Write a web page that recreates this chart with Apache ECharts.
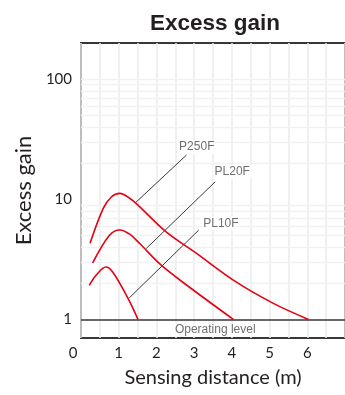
<!DOCTYPE html>
<html><head><meta charset="utf-8">
<script src="https://cdn.jsdelivr.net/npm/echarts@6/dist/echarts.min.js"></script>
<style>html,body{margin:0;padding:0;background:#fff}#c{width:345px;height:395px}</style>
</head><body><div id="c"></div>
<script>
// ---- data ----
const xTickLabels = [0, 1, 2, 3, 4, 5, 6];
const yTickLabels = [1, 10, 100];
const yGridValues = [2, 3, 4, 5, 6, 7, 8, 9, 20, 30, 40, 50, 60, 70, 80, 90, 100];
const operatingLevel = 1;

const distP250F = [0.24, 0.59, 0.81, 1.03, 1.29, 1.51, 2.25, 3.0, 4.1, 5.1, 6.03];
const gainP250F = [4.3, 8.4, 10.5, 11.2, 10.2, 8.95, 5.37, 3.66, 2.06, 1.36, 1.0];

const distPL20F = [0.31, 0.75, 1.03, 1.3, 1.55, 2.12, 2.86, 4.04];
const gainPL20F = [2.95, 5.0, 5.55, 5.1, 4.3, 2.84, 1.87, 1.0];

const distPL10F = [0.22, 0.40, 0.66, 0.84, 1.23, 1.51];
const gainPL10F = [1.92, 2.33, 2.73, 2.48, 1.53, 1.0];

const seriesNames = ['P250F', 'PL20F', 'PL10F'];
const leaderDist = [[1.46, 2.80], [1.73, 3.56], [1.28, 3.12]];
const leaderGain = [[9.47, 23.4], [3.89, 14.0], [1.51, 5.53]];
const labelDist = [3.07, 4.01, 3.71];
const labelGain = [27.2, 16.9, 6.32];
const opLabel = 'Operating level';
const opLabelPos = [3.56, 0.82];

// ---- build ----
const zip = (xs, ys) => xs.map((x, i) => [x, ys[i]]);
const RED = '#e60012';
const curves = [zip(distP250F, gainP250F), zip(distPL20F, gainPL20F), zip(distPL10F, gainPL10F)];
const font = 'Lato';
const GRID = '#ebebeb';

const series = [];
series.push({
  type: 'line', data: [], silent: true,
  markLine: {
    silent: true, symbol: 'none', z: 1, animation: false,
    label: { show: false }, emphasis: { disabled: true },
    lineStyle: { color: '#f1f1f1', width: 1.3, type: 'solid', opacity: 1 },
    data: yGridValues.map(v => ({ yAxis: v }))
  }
});
series.push({
  type: 'line', data: [], silent: true,
  markLine: {
    silent: true, symbol: 'none', z: 4, animation: false,
    label: { show: false }, emphasis: { disabled: true },
    lineStyle: { color: '#3a3536', width: 1.5, type: 'solid' },
    data: [{ yAxis: operatingLevel }]
  }
});
curves.forEach((d, i) => series.push({
  name: seriesNames[i], type: 'line', data: d, smooth: 0.35, symbol: 'none', z: 5,
  lineStyle: { color: RED, width: 1.6 }
}));
leaderDist.forEach((xs, i) => series.push({
  type: 'line', data: zip(xs, leaderGain[i]), symbol: 'none', z: 3, silent: true,
  lineStyle: { color: '#3a3a3a', width: 1 }
}));
series.push({
  type: 'scatter', symbolSize: 0, z: 6, silent: true,
  data: labelDist.map((x, i) => ({ value: [x, labelGain[i]], name: seriesNames[i] }))
    .concat([{ value: opLabelPos, name: opLabel }]),
  label: {
    show: true, position: 'inside', formatter: p => p.name,
    fontFamily: 'Liberation Sans', fontSize: 12, color: '#4a4a4a',
    backgroundColor: '#fff', padding: [1, 2]
  }
});

const chart = echarts.init(document.getElementById('c'), null, { renderer: 'canvas' });
chart.setOption({
  animation: false,
  backgroundColor: '#fff',
  title: {
    text: 'Excess gain', left: 145, top: 7,
    textStyle: { fontFamily: 'Liberation Sans', fontWeight: 'bold', fontSize: 22.5, color: '#231f20' }
  },
  grid: { left: 81, top: 43, width: 266, height: 295, show: true, borderColor: '#3a3536', borderWidth: 2, backgroundColor: 'transparent' },
  xAxis: {
    type: 'value', min: 0, max: 7, interval: 1,
    name: 'Sensing distance (m)', nameLocation: 'middle', nameGap: 30,
    nameTextStyle: { fontFamily: font, fontSize: 20, color: '#231f20' },
    axisLine: { show: false }, axisTick: { show: false },
    axisLabel: {
      margin: 8, fontFamily: font, fontSize: 15, color: '#231f20', showMaxLabel: false,
      formatter: v => xTickLabels.includes(v) ? (v === 0 ? '{z|0}' : String(v)) : '',
      rich: { z: { fontFamily: font, fontSize: 15, color: '#231f20', padding: [0, 16, 0, 0] } }
    },
    splitLine: { show: true, lineStyle: { color: GRID, width: 1.5 } },
    minorTick: { show: false, splitNumber: 2 },
    minorSplitLine: { show: true, lineStyle: { color: GRID, width: 1.5 } }
  },
  yAxis: {
    type: 'log', logBase: 10, min: 0.7, max: 200,
    name: 'Excess gain', nameLocation: 'middle', nameGap: 44,
    nameTextStyle: { fontFamily: font, fontSize: 22, color: '#231f20' },
    axisLine: { show: false }, axisTick: { show: false },
    splitLine: { show: false },
    axisLabel: {
      margin: 9, fontFamily: font, fontSize: 15, color: '#231f20',
      formatter: v => {
        const m = yTickLabels.find(t => Math.abs(t - v) / t < 1e-6);
        return m !== undefined ? String(m) : '';
      }
    }
  },
  series
});
</script></body></html>
